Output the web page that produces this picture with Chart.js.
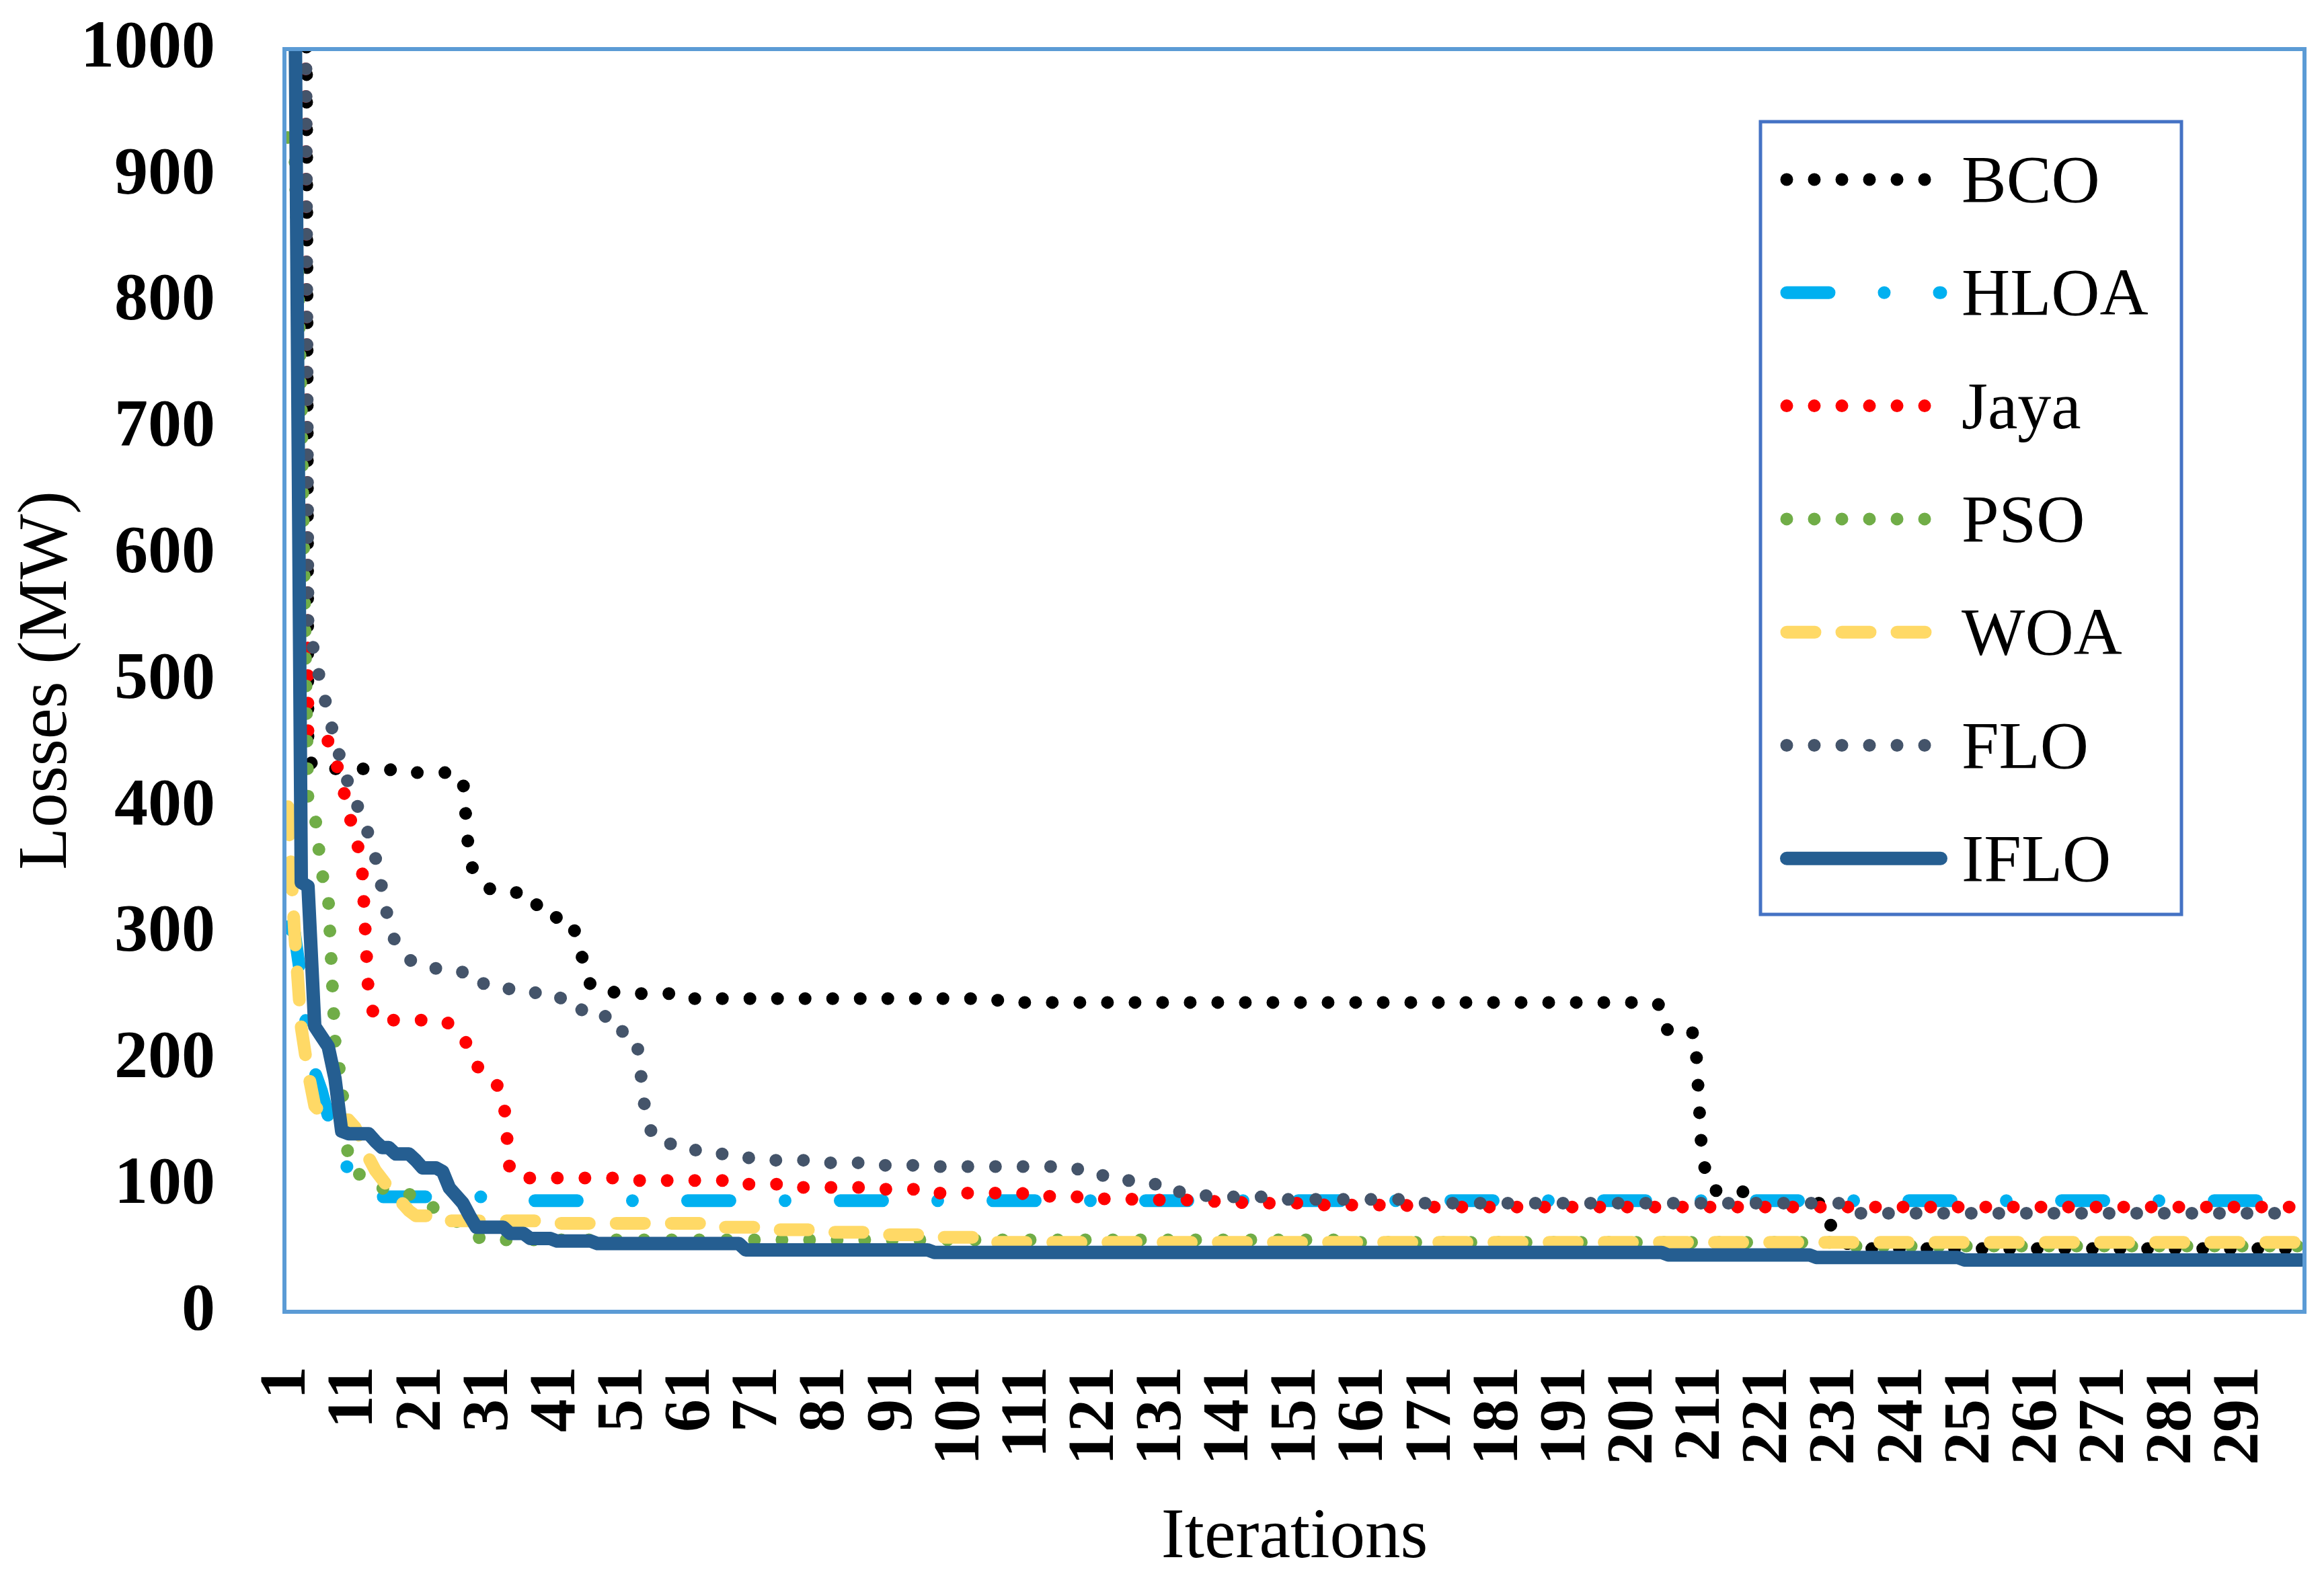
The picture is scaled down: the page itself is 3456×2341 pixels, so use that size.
<!DOCTYPE html>
<html>
<head>
<meta charset="utf-8">
<title>Losses vs iterations</title>
<script src="https://cdn.jsdelivr.net/npm/chart.js@4.4.1/dist/chart.umd.min.js"></script>
<style>
  html, body { margin: 0; padding: 0; background: #ffffff; }
  #wrap { width: 3456px; height: 2341px; }
</style>
</head>
<body>
<div id="wrap"><canvas id="lossChart" width="3456" height="2341"></canvas></div>
<script>
// iterations 1..300 on the category axis, only every 10th one is labelled
const iterations = Array.from({ length: 300 }, (_, k) => String(k + 1));
const shownTicks = ['1','11','21','31','41','51','61','71','81','91','101','111','121','131','141',
  '151','161','171','181','191','201','211','221','231','241','251','261','271','281','291'];

// values, written as [value, how many iterations it holds]
// (the curves are best-so-far values, so they sit flat for long stretches)
const bcoRuns = [[3000,3],[439,1],[430,12],[427,9],[422,2],[355,1],[347,1],[342,1],[335,2],[332,5],
  [322,3],[311,3],[295,1],[275,1],[258,1],[254,3],[252,10],[248,47],[245,98],[242,1],[221,5],
  [125,1],[100,1],[96,5],[86,12],[70,1],[60,2],[50,68]];
const hloaRuns = [[305,1],[300,1],[262,1],[215,1],[190,1],[175,1],[155,1],[135,1],[125,1],[112,1],
  [100,1],[91,19],[88,270]];
const jayaRuns = [[2000,3],[455,1],[452,3],[438,1],[420,1],[395,1],[378,1],[355,1],[250,1],[231,11],
  [228,1],[225,1],[220,1],[205,1],[195,1],[190,1],[188,1],[180,1],[172,1],[110,1],[108,1],[106,15],
  [104,16],[101,9],[98.5,13],[97,7],[94,15],[91.5,8],[89.5,8],[88.5,9],[87.5,7],[86,12],[84.5,13],[83,133]];
const psoRuns = [[930,1],[925,1],[720,1],[405,1],[395,1],[348,1],[330,1],[215,1],[180,1],[120,1],
  [112,1],[107,1],[103,1],[100,1],[98,1],[96,1],[95,1],[94,1],[93,1],[92,1],[90,1],[85,1],[81,1],
  [78,1],[75,1],[72,1],[68,1],[64,1],[60,1],[57,129],[55,72],[52,70]];
const woaRuns = [[400,1],[300,1],[225,1],[190,1],[163,1],[157,3],[152,2],[146,1],[135,1],[122,1],
  [112,1],[105,1],[98,1],[92,1],[86,1],[80,1],[76,4],[72,17],[70,24],[67,8],[65,8],[63,9],[61,8],
  [59,8],[55,195]];
const floRuns = [[2000,3],[545,1],[520,1],[495,1],[475,1],[452,1],[435,1],[418,1],
  [405,1],[392,1],[378,1],[360,1],[335,1],[308,1],[292,1],[284,1],[279,1],[276,1],[272,5],[269,4],
  [260,4],[255,4],[252,4],[245,3],[236,4],[222,3],[208,2],[162,1],[142,1],[133,3],[128,5],[125,4],
  [122,4],[120,8],[118,9],[116,7],[115,21],[113,3],[108,4],[104,4],[101,4],[95,4],[92,4],[91,9],
  [89,19],[86,66],[78,67]];
const ifloRuns = [[3000,1],[1100,1],[340,1],[337,1],[226,1],[218,1],[210,1],[185,1],[143,1],[141,4],
  [135,1],[130,2],[125,3],[120,1],[114,3],[111,1],[98,1],[92,1],[86,1],[76,1],[67,5],[62,3],[58,4],
  [56,6],[54,22],[49,28],[47,109],[45,22],[43,22],[41,51]];

const yTicks = [0, 100, 200, 300, 400, 500, 600, 700, 800, 900, 1000];

function expandRuns(runs) {
  const out = [];
  runs.forEach(([v, n]) => { for (let k = 0; k < n; k++) out.push(v); });
  return out;
}

const seriesList = [
  { label: 'BCO',  runs: bcoRuns,  color: '#000000', dash: [0.01, 41] },
  { label: 'HLOA', runs: hloaRuns, color: '#00B0F0', dash: [63, 82, 0.01, 82] },
  { label: 'Jaya', runs: jayaRuns, color: '#FF0000', dash: [0.01, 41] },
  { label: 'PSO',  runs: psoRuns,  color: '#70AD47', dash: [0.01, 41] },
  { label: 'WOA',  runs: woaRuns,  color: '#FFD966', dash: [42, 40] },
  { label: 'FLO',  runs: floRuns,  color: '#44546A', dash: [0.01, 41] },
  { label: 'IFLO', runs: ifloRuns, color: '#255E91', dash: [] }
];

const serif = '"Liberation Serif", "DejaVu Serif", serif';
Chart.defaults.font.family = serif;
Chart.defaults.color = '#000000';

// keep the plot area where the original has it
function noEdgePadding(s) {
  s.paddingLeft = 0;
  s.paddingRight = 0;
  s.paddingTop = 0;
  s.paddingBottom = 0;
}

// border round the plot area
const plotFrame = {
  id: 'plotFrame',
  afterDatasetsDraw(chart) {
    const { ctx, chartArea: a } = chart;
    ctx.save();
    ctx.strokeStyle = '#5B9BD5';
    ctx.lineWidth = 6;
    ctx.strokeRect(a.left, a.top, a.right - a.left, a.bottom - a.top);
    ctx.restore();
  }
};

// boxed legend inside the plot, like the original
const legendBox = {
  id: 'legendBox',
  afterDraw(chart) {
    const ctx = chart.ctx;
    ctx.save();
    ctx.fillStyle = '#ffffff';
    ctx.fillRect(2618, 181, 626, 1179);
    ctx.lineWidth = 5;
    ctx.strokeStyle = '#4472C4';
    ctx.strokeRect(2618, 181, 626, 1179);
    chart.data.datasets.forEach((ds, k) => {
      const y = 267 + k * 168.3;
      ctx.setLineDash(ds.borderDash);
      ctx.lineCap = 'round';
      ctx.lineWidth = ds.borderWidth;
      ctx.strokeStyle = ds.borderColor;
      ctx.beginPath();
      ctx.moveTo(2657, y);
      ctx.lineTo(2886, y);
      ctx.stroke();
      ctx.setLineDash([]);
      ctx.fillStyle = '#000000';
      ctx.font = '100px ' + serif;
      ctx.textAlign = 'left';
      ctx.textBaseline = 'alphabetic';
      ctx.fillText(ds.label, 2917, y + 33);
    });
    ctx.restore();
  }
};

new Chart(document.getElementById('lossChart'), {
  type: 'line',
  data: {
    labels: iterations,
    datasets: seriesList.map((s, k) => ({
      label: s.label,
      data: expandRuns(s.runs),
      borderColor: s.color,
      backgroundColor: s.color,
      borderWidth: s.label === 'IFLO' ? 20 : 19,
      borderDash: s.dash,
      borderCapStyle: 'round',
      borderJoinStyle: 'round',
      pointRadius: 0,
      tension: 0,
      fill: false,
      clip: 0,
      order: seriesList.length - 1 - k
    }))
  },
  options: {
    responsive: false,
    devicePixelRatio: 1,
    animation: false,
    layout: { padding: { top: 73, right: 29, bottom: 0, left: 0 } },
    plugins: {
      legend: { display: false },
      tooltip: { enabled: false }
    },
    scales: {
      x: {
        offset: true,
        grid: { display: false, drawTicks: false },
        border: { display: false },
        ticks: {
          autoSkip: false,
          minRotation: 90,
          maxRotation: 90,
          padding: 81,
          color: '#000000',
          font: { size: 98, weight: 'bold' },
          callback: function (value) {
            const lab = this.getLabelForValue(value);
            return shownTicks.includes(lab) ? lab : '';
          }
        },
        title: {
          display: true,
          text: 'Iterations',
          color: '#000000',
          font: { size: 105, lineHeight: 1 },
          padding: { top: 0, bottom: 0 }
        },
        afterFit: s => { s.height = 390; noEdgePadding(s); }
      },
      y: {
        min: 0,
        max: 1000,
        grid: { display: false, drawTicks: false },
        border: { display: false },
        afterBuildTicks: s => { s.ticks = yTicks.map(v => ({ value: v })); },
        ticks: {
          padding: 103,
          color: '#000000',
          font: { size: 100, weight: 'bold' },
          callback: v => String(v)
        },
        title: {
          display: true,
          text: 'Losses (MW)',
          color: '#000000',
          font: { size: 103 },
          padding: { top: 9, bottom: 0 }
        },
        afterFit: s => { s.width = 423; noEdgePadding(s); }
      }
    }
  },
  plugins: [plotFrame, legendBox]
});
</script>
</body>
</html>
